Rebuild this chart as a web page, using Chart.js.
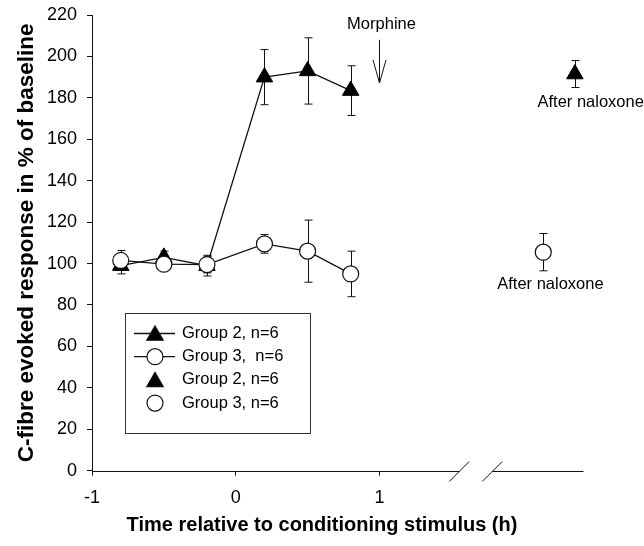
<!DOCTYPE html>
<html>
<head>
<meta charset="utf-8">
<script src="https://cdn.jsdelivr.net/npm/chart.js@4.4.1/dist/chart.umd.min.js"></script>
<style>
  body { margin: 0; background: #fff; }
  #wrap { width: 644px; height: 546px; }
</style>
</head>
<body>
<div id="wrap"><canvas id="fibreChart" width="644" height="546"></canvas></div>
<script>
// time relative to conditioning stimulus (h)
const timePoints = [-0.8, -0.5, -0.2, 0.2, 0.5, 0.8];
// C-fibre evoked response, % of baseline
const group2Values = [99, 103, 99, 190, 193, 183.5];
const group2Errors = [4, 3, 5, 13.3, 16, 12];
const group3Values = [101.5, 99.7, 99.5, 109.5, 106, 95];
const group3Errors = [4.8, 2, 4, 4.5, 15, 11];
// after naloxone (drawn past the axis break)
const naloxoneTimeG2 = [2.36];
const naloxoneG2 = [191.5];
const naloxoneErrG2 = [6.5];
const naloxoneTimeG3 = [2.14];
const naloxoneG3 = [105.5];
const naloxoneErrG3 = [9];

const xTickValues = [-1, 0, 1];
const legendLabels = ['Group 2, n=6', 'Group 3,  n=6', 'Group 2, n=6', 'Group 3, n=6'];

const FONT = "'Liberation Sans', Arial, sans-serif";
const INK = '#111';

function toPoints(xs, ys) {
    return xs.map((x, i) => ({x: x, y: ys[i]}));
}

function drawMarker(ctx, style, x, y, r, fill) {
    ctx.beginPath();
    if (style === 'triangle') {
        const a = 2 * Math.PI / 3;
        ctx.moveTo(x, y - r);
        ctx.lineTo(x + r * Math.sin(a), y - r * Math.cos(a));
        ctx.lineTo(x - r * Math.sin(a), y - r * Math.cos(a));
        ctx.closePath();
    } else {
        ctx.arc(x, y, r, 0, Math.PI * 2);
    }
    ctx.fillStyle = fill;
    ctx.fill();
    ctx.stroke();
}

// vertical error bars with caps, under the markers
const errorBars = {
    id: 'errorBars',
    beforeDatasetsDraw(chart) {
        const {ctx, scales: {x, y}} = chart;
        ctx.save();
        ctx.strokeStyle = INK;
        ctx.lineWidth = 1;
        chart.data.datasets.forEach(ds => {
            if (!ds.err) return;
            ds.data.forEach((p, i) => {
                const px = Math.round(x.getPixelForValue(p.x)) + 0.5;
                const top = y.getPixelForValue(p.y + ds.err[i]);
                const bot = y.getPixelForValue(p.y - ds.err[i]);
                ctx.beginPath();
                ctx.moveTo(px, top); ctx.lineTo(px, bot);
                ctx.moveTo(px - 4, top); ctx.lineTo(px + 4, top);
                ctx.moveTo(px - 4, bot); ctx.lineTo(px + 4, bot);
                ctx.stroke();
            });
        });
        ctx.restore();
    }
};

// x axis line with a break, plus text and arrow notes
const axisAndNotes = {
    id: 'axisAndNotes',
    afterDraw(chart) {
        const {ctx, scales: {x, y}} = chart;
        const y0 = Math.round(y.getPixelForValue(0)) + 0.5;
        ctx.save();
        ctx.strokeStyle = INK;
        ctx.lineWidth = 1;
        // axis segments
        [[-1, 1.555], [1.785, 2.42]].forEach(seg => {
            ctx.beginPath();
            ctx.moveTo(x.getPixelForValue(seg[0]), y0);
            ctx.lineTo(x.getPixelForValue(seg[1]), y0);
            ctx.stroke();
        });
        // break slashes
        [1.555, 1.785].forEach(b => {
            const bx = x.getPixelForValue(b);
            ctx.beginPath();
            ctx.moveTo(bx - 10, y0 + 10);
            ctx.lineTo(bx + 10, y0 - 10);
            ctx.stroke();
        });
        // morphine arrow
        const ax = Math.round(x.getPixelForValue(1)) + 0.5;
        const aTop = y.getPixelForValue(208);
        const aTip = y.getPixelForValue(187.2);
        ctx.beginPath();
        ctx.moveTo(ax, aTop); ctx.lineTo(ax, aTip);
        ctx.moveTo(ax - 6.5, aTip - 23); ctx.lineTo(ax, aTip); ctx.lineTo(ax + 6.5, aTip - 23);
        ctx.stroke();

        ctx.fillStyle = '#000';
        ctx.font = '16.5px ' + FONT;
        ctx.textAlign = 'center';
        ctx.textBaseline = 'middle';
        ctx.fillText('Morphine', ax + 2, y.getPixelForValue(215.5));
        ctx.fillText('After naloxone', x.getPixelForValue(2.47), y.getPixelForValue(178));
        ctx.fillText('After naloxone', x.getPixelForValue(2.19), y.getPixelForValue(90));

        // x axis title, centred on the figure
        ctx.font = 'bold 20px ' + FONT;
        ctx.fillText('Time relative to conditioning stimulus (h)', chart.width / 2, 525);
        ctx.restore();
    }
};

// boxed legend inside the plot
const boxLegend = {
    id: 'boxLegend',
    afterDraw(chart) {
        const ctx = chart.ctx;
        ctx.save();
        ctx.fillStyle = '#fff';
        ctx.fillRect(125.5, 313.5, 185, 120);
        ctx.strokeStyle = '#333';
        ctx.lineWidth = 1;
        ctx.strokeRect(125.5, 313.5, 185, 120);
        chart.data.datasets.forEach((ds, i) => {
            const ry = 333.5 + i * 23.2;
            ctx.strokeStyle = INK;
            ctx.lineWidth = 1.3;
            if (ds.showLine) {
                ctx.beginPath();
                ctx.moveTo(134, ry); ctx.lineTo(175, ry);
                ctx.stroke();
            }
            ctx.lineWidth = 1.2;
            const tri = ds.pointStyle === 'triangle';
            drawMarker(ctx, ds.pointStyle, 155, tri ? ry + 2 : ry, ds.pointRadius, ds.pointBackgroundColor);
            ctx.fillStyle = '#000';
            ctx.font = '16.5px ' + FONT;
            ctx.textAlign = 'left';
            ctx.textBaseline = 'middle';
            ctx.fillText(ds.label, 182, ry);
        });
        ctx.restore();
    }
};

const ctx = document.getElementById('fibreChart').getContext('2d');
window.fibreChart = new Chart(ctx, {
    type: 'scatter',
    data: {
        datasets: [{
            label: legendLabels[0],
            data: toPoints(timePoints, group2Values),
            err: group2Errors,
            showLine: true,
            borderColor: INK,
            borderWidth: 1.3,
            pointStyle: 'triangle',
            pointRadius: 9.5,
            pointBackgroundColor: '#000',
            pointBorderColor: '#000',
            pointBorderWidth: 1,
            order: 1
        }, {
            label: legendLabels[1],
            data: toPoints(timePoints, group3Values),
            err: group3Errors,
            showLine: true,
            borderColor: INK,
            borderWidth: 1.3,
            pointStyle: 'circle',
            pointRadius: 8,
            pointBackgroundColor: '#fff',
            pointBorderColor: INK,
            pointBorderWidth: 1.2,
            order: 0
        }, {
            label: legendLabels[2],
            data: toPoints(naloxoneTimeG2, naloxoneG2),
            err: naloxoneErrG2,
            showLine: false,
            pointStyle: 'triangle',
            pointRadius: 9.5,
            pointBackgroundColor: '#000',
            pointBorderColor: '#000',
            pointBorderWidth: 1,
            order: 1
        }, {
            label: legendLabels[3],
            data: toPoints(naloxoneTimeG3, naloxoneG3),
            err: naloxoneErrG3,
            showLine: false,
            pointStyle: 'circle',
            pointRadius: 8,
            pointBackgroundColor: '#fff',
            pointBorderColor: INK,
            pointBorderWidth: 1.2,
            order: 0
        }]
    },
    options: {
        responsive: false,
        animation: false,
        layout: {
            padding: {left: 13.5, right: 49, top: 15, bottom: 33}
        },
        plugins: {
            legend: {display: false},
            tooltip: {enabled: false}
        },
        scales: {
            x: {
                type: 'linear',
                min: -1,
                max: 2.5,
                afterBuildTicks: s => { s.ticks = xTickValues.map(v => ({value: v})); },
                afterFit: s => { s.height = 42.3; s.paddingLeft = 0; s.paddingRight = 0; },
                border: {display: false},
                grid: {display: true, drawOnChartArea: false, drawTicks: true, tickLength: 5, color: INK},
                ticks: {color: '#000', padding: 12, font: {family: FONT, size: 18}}
            },
            y: {
                min: 0,
                max: 220,
                afterFit: s => { s.width = 78.5; s.paddingTop = 0; s.paddingBottom = 0; },
                border: {display: true, color: INK, width: 1},
                grid: {display: true, drawOnChartArea: false, drawTicks: true, tickLength: 5, color: INK},
                ticks: {stepSize: 20, color: '#000', padding: 10, font: {family: FONT, size: 18}},
                title: {
                    display: true,
                    text: 'C-fibre evoked response in % of baseline',
                    color: '#000',
                    padding: 0,
                    font: {family: FONT, size: 22.5, weight: 'bold'}
                }
            }
        }
    },
    plugins: [errorBars, axisAndNotes, boxLegend]
});
</script>
</body>
</html>
